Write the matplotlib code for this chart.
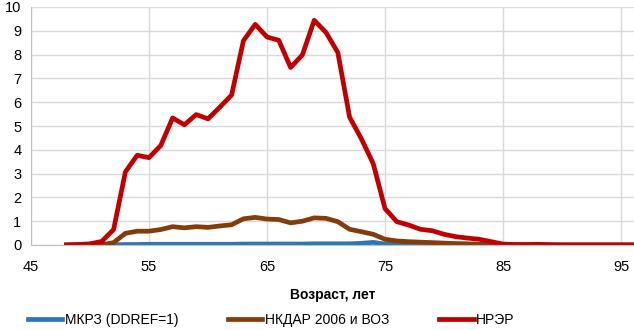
import matplotlib
matplotlib.use("Agg")
import matplotlib.pyplot as plt

# age, years
ages = list(range(48, 97))

# МКРЗ (DDREF=1)
icrp = [0.0, 0.0, 0.0, 0.0, 0.01, 0.02, 0.02, 0.03, 0.03, 0.03,
        0.03, 0.03, 0.03, 0.03, 0.03, 0.04, 0.04, 0.04, 0.04, 0.04,
        0.04, 0.05, 0.05, 0.05, 0.05, 0.07, 0.11, 0.04, 0.02, 0.01,
        0.01, 0.01, 0.01, 0.01, 0.0, 0.0, 0.0, 0.0, 0.0, 0.0,
        0.0, 0.0, 0.0, 0.0, 0.0, 0.0, 0.0, 0.0, 0.0]
# НКДАР 2006 и ВОЗ
unscear = [0.0, 0.0, 0.0, 0.01, 0.1, 0.49, 0.58, 0.58, 0.65, 0.77,
           0.72, 0.77, 0.74, 0.8, 0.85, 1.1, 1.16, 1.09, 1.07, 0.93,
           1.0, 1.14, 1.12, 0.98, 0.66, 0.56, 0.45, 0.24, 0.17, 0.14,
           0.12, 0.1, 0.08, 0.06, 0.05, 0.03, 0.02, 0.01, 0.0, 0.0,
           0.0, 0.0, 0.0, 0.0, 0.0, 0.0, 0.0, 0.0, 0.0]
# НРЭР
nrer = [0.0, 0.02, 0.05, 0.15, 0.65, 3.07, 3.77, 3.67, 4.18, 5.34,
        5.05, 5.48, 5.3, 5.79, 6.3, 8.58, 9.27, 8.74, 8.6, 7.46,
        7.99, 9.44, 8.93, 8.09, 5.37, 4.46, 3.42, 1.53, 0.98, 0.84,
        0.66, 0.6, 0.45, 0.35, 0.29, 0.24, 0.14, 0.04, 0.02, 0.02,
        0.03, 0.01, 0.0, 0.0, 0.0, 0.0, 0.0, 0.0, 0.0]

plt.rcParams['font.family'] = ['Liberation Sans', 'DejaVu Sans']

fig = plt.figure(figsize=(6.34, 3.30), dpi=100)
ax = fig.add_axes([31 / 634, 1 - 245 / 330, 1 - 31 / 634, 238 / 330])

lw = 3.4
ax.plot(ages, icrp, color='#2E75B6', lw=lw, label='МКРЗ (DDREF=1)', solid_joinstyle='round')
ax.plot(ages, unscear, color='#843C0C', lw=lw, label='НКДАР 2006 и ВОЗ', solid_joinstyle='round')
ax.plot(ages, nrer, color='#C00000', lw=lw, label='НРЭР', solid_joinstyle='round')

ax.set_xlim(45, 96.1)
ax.set_ylim(0, 10)
ax.set_xticks(range(45, 96, 10))
ax.set_yticks(range(0, 11))
ax.grid(True, color='#D9D9D9', lw=1)
ax.set_axisbelow(True)
for s in ['top', 'right']:
    ax.spines[s].set_visible(False)
ax.spines['left'].set_color('#BFBFBF')
ax.spines['bottom'].set_color('#BFBFBF')
ax.tick_params(length=0, labelsize=10.5, pad=7)
ax.tick_params(axis='x', pad=11)
ax.set_xlabel('Возраст, лет', fontsize=10, fontweight='bold', labelpad=10)

fig.legend(loc='center left', bbox_to_anchor=(28 / 634, 1 - 320 / 330), ncol=3, frameon=False,
           fontsize=10, handlelength=2.45, columnspacing=3.6, handletextpad=0.2,
           borderpad=0, borderaxespad=0)

fig.savefig('out.png', dpi=100)
